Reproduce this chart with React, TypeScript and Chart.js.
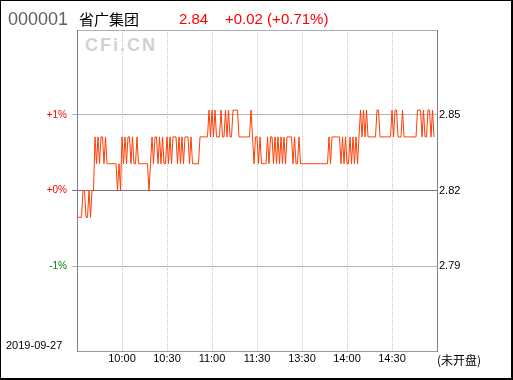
import React, { useEffect, useRef } from 'react';
import { Chart, registerables } from 'chart.js';

Chart.register(...registerables);

const stockCode = '000001';
const stockName = '省广集团';
const lastPrice = '2.84';
const changeText = '+0.02 (+0.71%)';
const tradeDate = '2019-09-27';
const statusText = '(未开盘)';
const watermark = 'CFi.CN';

const prevClose = 2.82;

// minute-by-minute prices, 09:30 → 15:00 (lunch break removed)
const prices = [
  2.81, 2.81, 2.81, 2.81,
  2.82, 2.82, 2.81, 2.81, 2.82, 2.81, 2.82,
  2.82,
  2.84, 2.83, 2.84, 2.83, 2.84, 2.84, 2.83, 2.84,
  2.83, 2.83, 2.83, 2.83, 2.83, 2.83, 2.83,
  2.82, 2.83, 2.82,
  2.84, 2.83, 2.84, 2.83, 2.84, 2.84, 2.83, 2.84, 2.83, 2.83,
  2.84, 2.83, 2.83, 2.83, 2.83, 2.83, 2.83, 2.83,
  2.82,
  2.83,
  2.84, 2.83, 2.84, 2.84, 2.83,
  2.84, 2.83, 2.84, 2.83, 2.83, 2.84, 2.83, 2.84, 2.83,
  2.84, 2.84, 2.84,
  2.83, 2.84, 2.83, 2.84, 2.83,
  2.84, 2.84, 2.84,
  2.83, 2.84, 2.83, 2.83,
  2.83, 2.83, 2.83,
  2.84, 2.84, 2.84, 2.84, 2.84, 2.84,
  2.85, 2.84, 2.85, 2.84, 2.85, 2.84, 2.84, 2.84, 2.85, 2.84,
  2.84, 2.85, 2.84, 2.85, 2.84, 2.84, 2.85, 2.85, 2.85, 2.85,
  2.84, 2.84, 2.84, 2.84, 2.84, 2.84, 2.84, 2.84,
  2.85, 2.84, 2.83, 2.84,
  2.84, 2.83, 2.84, 2.83, 2.83, 2.83, 2.83, 2.84, 2.83, 2.84,
  2.84, 2.83, 2.84, 2.83, 2.84, 2.83, 2.84, 2.83, 2.84, 2.83,
  2.84, 2.84, 2.84, 2.84, 2.83, 2.84, 2.83, 2.83, 2.84, 2.83,
  2.83, 2.83, 2.83, 2.83, 2.83, 2.83, 2.83, 2.83, 2.83, 2.83,
  2.83, 2.83, 2.83, 2.83, 2.83, 2.83, 2.83, 2.83,
  2.84, 2.83, 2.84, 2.84, 2.84, 2.84, 2.84, 2.84, 2.83, 2.84,
  2.83, 2.84, 2.83, 2.83, 2.84, 2.83, 2.84, 2.83, 2.84, 2.83,
  2.84,
  2.85, 2.84, 2.85, 2.84, 2.85,
  2.84, 2.84, 2.84, 2.84, 2.84, 2.84,
  2.85, 2.85,
  2.84, 2.84, 2.84, 2.84, 2.84, 2.84, 2.84, 2.84,
  2.85, 2.84, 2.85, 2.85, 2.84, 2.84, 2.84, 2.85,
  2.84, 2.84, 2.84, 2.84, 2.84, 2.84, 2.84, 2.84, 2.84,
  2.85, 2.85, 2.85, 2.84, 2.85, 2.84, 2.84, 2.85, 2.85, 2.84, 2.85, 2.84,
];

const xTickValues = [0, 30, 60, 90, 120, 150, 180, 210, 240];
const xTickLabels = ['', '10:00', '10:30', '11:00', '11:30', '13:30', '14:00', '14:30', ''];
const pctLevels = [-1, 0, 1];
const pctLabels = ['-1%', '+0%', '+1%'];

export default function App() {
  const ref = useRef<HTMLCanvasElement>(null);

  useEffect(() => {
    if (!ref.current) return;
    const span = 0.0599;
    const yMin = prevClose - span;
    const yMax = prevClose + span;
    const yTickValues = [yMin, ...pctLevels.map((p) => prevClose * (1 + p / 100)), yMax];
    const lastIdx = yTickValues.length - 1;
    const setYTicks = (s: any) => {
      s.ticks = yTickValues.map((v) => ({ value: v }));
    };
    const gridColorY = (ctx: any) => {
      if (ctx.index === 0) return 'rgba(0,0,0,0)';
      if (ctx.index === lastIdx) return '#b0b0b0';
      if (ctx.index === 2) return '#7d6f82';
      return '#b4b4b4';
    };
    const tickColorY = (ctx: any) => {
      if (ctx.index === 0 || ctx.index === lastIdx) return 'rgba(0,0,0,0)';
      if (ctx.index === 2) return '#7d6f82';
      return '#b4b4b4';
    };

    const chart = new Chart(ref.current, {
      type: 'line',
      data: {
        datasets: [
          {
            data: prices.map((y, x) => ({ x, y })),
            borderColor: '#ff3c00',
            borderWidth: 1,
            pointRadius: 0,
            tension: 0,
            fill: false,
          },
        ],
      },
      options: {
        animation: false,
        responsive: false,
        events: [],
        layout: { padding: { top: 30, left: 0, right: 0, bottom: 0 } },
        plugins: { legend: { display: false }, tooltip: { enabled: false } },
        scales: {
          x: {
            type: 'linear',
            min: 0,
            max: 240,
            afterBuildTicks: (s: any) => {
              s.ticks = xTickValues.map((v) => ({ value: v }));
            },
            afterFit: (s: any) => {
              s.height = 29;
            },
            grid: {
              color: (ctx: any) =>
                ctx.index === 0 || ctx.index === xTickValues.length - 1 ? 'rgba(0,0,0,0)' : '#c8c8c8',
              drawTicks: false,
              lineWidth: 1,
            },
            border: { display: true, color: '#9a9a9a', dash: [1, 1] },
            ticks: {
              autoSkip: false,
              maxRotation: 0,
              padding: 1,
              color: '#000',
              font: { family: 'Liberation Sans', size: 11 },
              callback: (_v: any, i: number) => xTickLabels[i],
            },
          },
          y: {
            position: 'left',
            min: yMin,
            max: yMax,
            afterBuildTicks: setYTicks,
            afterFit: (s: any) => {
              s.width = 77;
            },
            grid: { color: gridColorY, tickColor: tickColorY, drawTicks: true, tickLength: 5, lineWidth: 1 },
            border: { display: true, color: '#808080' },
            ticks: {
              autoSkip: false,
              padding: 5,
              font: { family: 'Liberation Sans', size: 10 },
              color: (ctx: any) => (ctx.index === 1 ? '#008000' : '#ff0000'),
              callback: (_v: any, i: number) => (i >= 1 && i <= 3 ? pctLabels[i - 1] : ''),
            },
          },
          y2: {
            position: 'right',
            min: yMin,
            max: yMax,
            afterBuildTicks: setYTicks,
            afterFit: (s: any) => {
              s.width = 76;
            },
            grid: { display: false, drawTicks: false },
            border: { display: true, color: '#808080' },
            ticks: {
              autoSkip: false,
              padding: 2,
              font: { family: 'Liberation Sans', size: 11 },
              color: '#000',
              callback: (_v: any, i: number) =>
                i >= 1 && i <= 3 ? (prevClose * (1 + pctLevels[i - 1] / 100)).toFixed(2) : '',
            },
          },
        },
      },
    } as any);
    return () => chart.destroy();
  }, []);

  const abs = (extra: React.CSSProperties): React.CSSProperties => ({
    position: 'absolute',
    whiteSpace: 'nowrap',
    margin: 0,
    ...extra,
  });

  return (
    <div style={{ position: 'fixed', left: 0, top: 0, width: 513, height: 380, background: '#fff', overflow: 'hidden' }}>
      <div
        style={abs({
          left: 85,
          top: 36,
          fontFamily: 'Liberation Sans',
          fontWeight: 'bold',
          fontSize: 18,
          lineHeight: '18px',
          letterSpacing: 2,
          color: '#d2d2d2',
        })}
      >
        {watermark}
      </div>
      <canvas ref={ref} width={513} height={380} style={{ position: 'absolute', left: 0, top: 0, width: 513, height: 380 }} />
      <div style={abs({ left: 8, top: 10, fontFamily: 'Liberation Sans', fontSize: 18, lineHeight: '18px', color: '#606060' })}>
        {stockCode}
      </div>
      <div style={abs({ left: 79, top: 11, fontFamily: '"Noto Sans CJK SC"', fontSize: 15, lineHeight: '15px', color: '#000' })}>
        {stockName}
      </div>
      <div style={abs({ left: 179, top: 11, fontFamily: 'Liberation Sans', fontSize: 15, lineHeight: '15px', color: '#ff0000' })}>
        {lastPrice}
      </div>
      <div style={abs({ left: 225, top: 11, fontFamily: 'Liberation Sans', fontSize: 15, lineHeight: '15px', color: '#ff0000' })}>
        {changeText}
      </div>
      <div style={abs({ left: 6, top: 340, fontFamily: 'Liberation Sans', fontSize: 11, lineHeight: '11px', color: '#000' })}>
        {tradeDate}
      </div>
      <div style={abs({ left: 437, top: 354, fontFamily: '"Noto Sans CJK SC"', fontSize: 12, lineHeight: '12px', color: '#000' })}>
        {statusText}
      </div>
      <div
        style={abs({
          left: 0,
          top: 0,
          width: 513,
          height: 380,
          boxSizing: 'border-box',
          borderTop: '1px solid #000',
          borderLeft: '1px solid #000',
          borderRight: '2px solid #000',
          borderBottom: '2px solid #000',
          pointerEvents: 'none',
        })}
      />
    </div>
  );
}
